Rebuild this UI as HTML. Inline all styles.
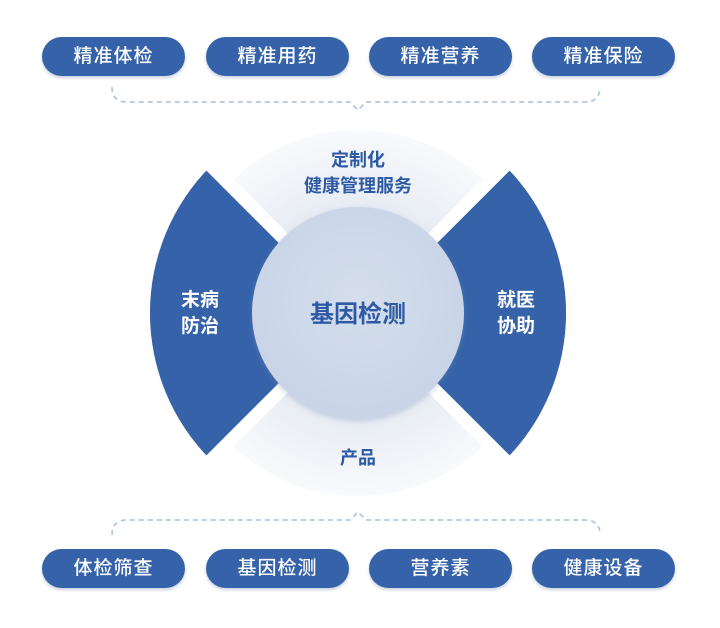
<!DOCTYPE html>
<html><head><meta charset="utf-8"><style>
body{margin:0;background:#fff;width:720px;height:628px;overflow:hidden;font-family:"Liberation Sans","Noto Sans CJK SC",sans-serif;}
.p{position:absolute;width:143px;height:39px;border-radius:20px;background:#3562a8;color:#fff;font-size:19px;line-height:39px;text-align:center;box-shadow:0 2px 3px rgba(40,70,130,.25);letter-spacing:1px;font-weight:500}
</style></head><body>
<div class="p" style="left:42px;top:37px">精准体检</div>
<div class="p" style="left:206px;top:37px">精准用药</div>
<div class="p" style="left:369px;top:37px">精准营养</div>
<div class="p" style="left:532px;top:37px">精准保险</div>
<div class="p" style="left:42px;top:549px">体检筛查</div>
<div class="p" style="left:206px;top:549px">基因检测</div>
<div class="p" style="left:369px;top:549px">营养素</div>
<div class="p" style="left:532px;top:549px">健康设备</div>
<svg width="720" height="628" style="position:absolute;left:0;top:0" font-family="Liberation Sans, Noto Sans CJK SC, sans-serif">
<defs>
<radialGradient id="lg" cx="358" cy="313" r="185" gradientUnits="userSpaceOnUse">
<stop offset="0.55" stop-color="#e6ebf3"/><stop offset="1" stop-color="#f9fafc"/></radialGradient>
<radialGradient id="cg" cx="358" cy="300" r="110" gradientUnits="userSpaceOnUse">
<stop offset="0" stop-color="#d4deec"/><stop offset="1" stop-color="#c9d5e7"/></radialGradient>
<filter id="sh" x="-20%" y="-20%" width="140%" height="140%"><feDropShadow dx="0" dy="2" stdDeviation="3" flood-color="#7a8fb5" flood-opacity=".35"/></filter>
</defs>
<g fill="none" stroke="#b3c7df" stroke-width="1.8" stroke-dasharray="5,4">
<path d="M112 87 Q112 102 127 102 L350 102 L358 110 L366 102 L585 102 Q600 102 600 87"/>
<path d="M112 535 Q112 520 127 520 L350 520 L358 512 L366 520 L585 520 Q600 520 600 535"/>
</g>
<path d="M358 313 L228.6 183.6 A183 183 0 0 1 487.4 183.6 Z" fill="url(#lg)"/>
<path d="M358 313 L487.4 442.4 A183 183 0 0 1 228.6 442.4 Z" fill="url(#lg)"/>
<path d="M358 313 L210.9 165.9 A208 208 0 0 0 210.9 460.1 Z" fill="#3562a8"/>
<path d="M358 313 L505.1 165.9 A208 208 0 0 1 505.1 460.1 Z" fill="#3562a8"/>
<g stroke="#fff" stroke-width="13">
<line x1="358" y1="313" x2="200" y2="155"/><line x1="358" y1="313" x2="516" y2="155"/>
<line x1="358" y1="313" x2="200" y2="471"/><line x1="358" y1="313" x2="516" y2="471"/>
</g>
<circle cx="358" cy="313" r="106" fill="url(#cg)" filter="url(#sh)"/>
<g font-weight="bold" text-anchor="middle">
<text x="358" y="166" font-size="18" fill="#2d5aa3">定制化</text>
<text x="358" y="192" font-size="18" fill="#2d5aa3">健康管理服务</text>
<text x="358" y="464" font-size="18" fill="#2d5aa3">产品</text>
<text x="358" y="322" font-size="24" fill="#2d5aa3">基因检测</text>
<text x="200" y="306" font-size="19" fill="#fff">末病</text>
<text x="200" y="332" font-size="19" fill="#fff">防治</text>
<text x="516" y="306" font-size="19" fill="#fff">就医</text>
<text x="516" y="332" font-size="19" fill="#fff">协助</text>
</g>
</svg>
</body></html>
